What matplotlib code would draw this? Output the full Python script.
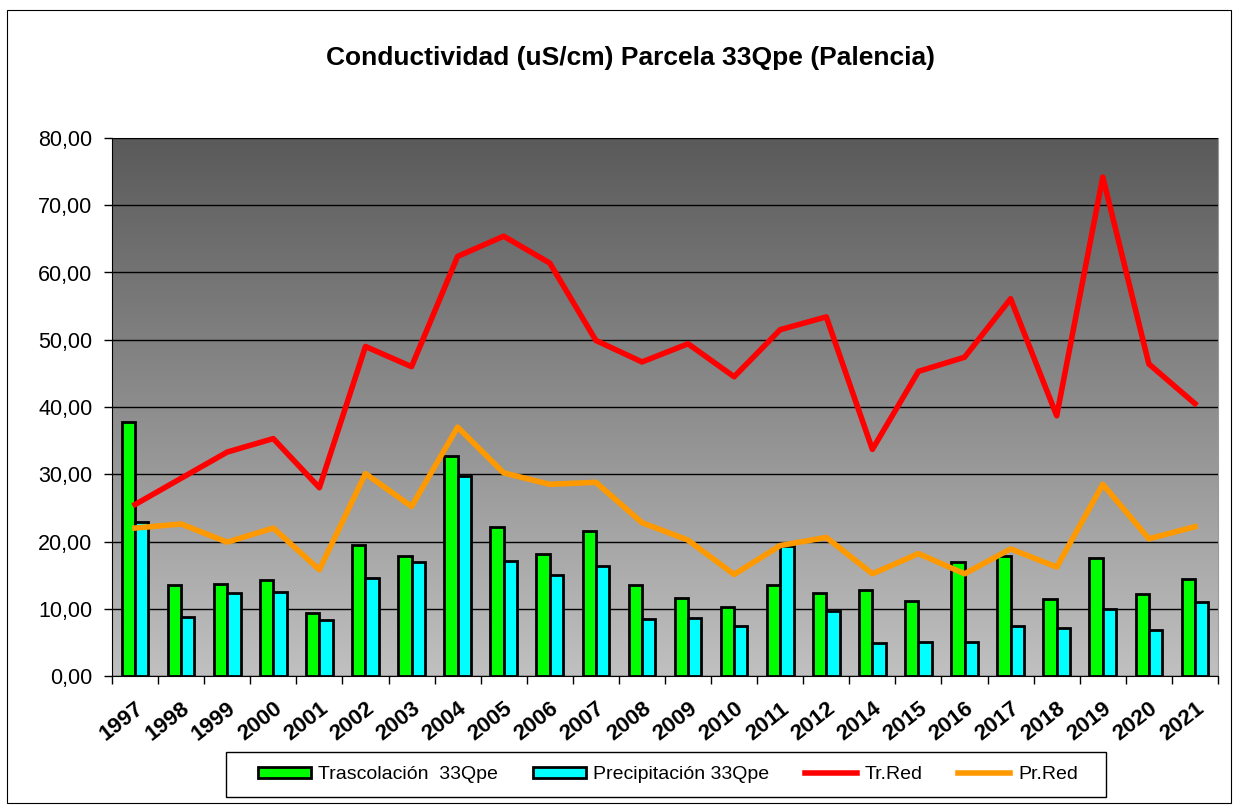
import numpy as np
import matplotlib
matplotlib.use("Agg")
from matplotlib import pyplot as plt
from matplotlib.patches import Rectangle
from matplotlib.ticker import FuncFormatter
from matplotlib.colors import LinearSegmentedColormap

plt.rcParams['font.family'] = ['Liberation Sans', 'DejaVu Sans']

# data
years = ['1997', '1998', '1999', '2000', '2001', '2002', '2003', '2004',
         '2005', '2006', '2007', '2008', '2009', '2010', '2011', '2012',
         '2014', '2015', '2016', '2017', '2018', '2019', '2020', '2021']
trascolacion = [37.8, 13.5, 13.7, 14.3, 9.3, 19.5, 17.9, 32.7,
                22.2, 18.2, 21.5, 13.5, 11.6, 10.3, 13.5, 12.4,
                12.8, 11.2, 17.0, 17.9, 11.4, 17.5, 12.2, 14.4]
precipitacion = [22.9, 8.8, 12.3, 12.5, 8.4, 14.6, 17.0, 29.7,
                 17.1, 15.0, 16.4, 8.5, 8.6, 7.4, 19.4, 9.7,
                 4.9, 5.1, 5.1, 7.4, 7.2, 10.0, 6.9, 11.0]
tr_red = [25.5, 29.4, 33.3, 35.3, 28.0, 49.0, 46.0, 62.4,
          65.4, 61.4, 49.9, 46.7, 49.4, 44.5, 51.5, 53.4,
          33.7, 45.3, 47.4, 56.1, 38.7, 74.2, 46.4, 40.5]
pr_red = [22.0, 22.6, 19.9, 22.0, 15.8, 30.1, 25.2, 37.0,
          30.2, 28.5, 28.8, 22.8, 20.2, 15.1, 19.4, 20.6,
          15.2, 18.2, 15.2, 18.9, 16.2, 28.5, 20.4, 22.2]

W, H = 1234, 805
fig = plt.figure(figsize=(W / 100, H / 100), dpi=100)

# outer chart border
fig.patches.append(Rectangle((7 / W, 2 / H), 1224 / W, 793 / H, transform=fig.transFigure,
                             fill=False, edgecolor='black', linewidth=0.8))

ax = fig.add_axes([112 / W, 1 - 676 / H, 1106 / W, 538 / H])

# gray gradient background
grad = np.linspace(0, 1, 256).reshape(-1, 1)
cmap = LinearSegmentedColormap.from_list('bg', ['#5a5a5a', '#c0c0c0'])
ax.imshow(grad, cmap=cmap, aspect='auto', extent=[0, 1, 0, 1],
          transform=ax.transAxes, zorder=0)

x = np.arange(len(years))
bw = 0.29
b1 = ax.bar(x - bw / 2, trascolacion, bw, color='#00ff00', edgecolor='black',
            linewidth=2.0, zorder=3)
b2 = ax.bar(x + bw / 2, precipitacion, bw, color='#00ffff', edgecolor='black',
            linewidth=2.0, zorder=3)
l1, = ax.plot(x, tr_red, color='#ff0000', linewidth=4, zorder=4)
l2, = ax.plot(x, pr_red, color='#ff9900', linewidth=4, zorder=4)

ax.set_xlim(-0.5, len(years) - 0.5)
ax.set_ylim(0, 80)
ax.set_yticks(np.arange(0, 81, 10))
ax.yaxis.set_major_formatter(FuncFormatter(lambda v, p: ('%.2f' % v).replace('.', ',')))
ax.grid(axis='y', color='black', linewidth=1.0, zorder=1)
ax.set_axisbelow(False)
for gl in ax.get_ygridlines():
    gl.set_zorder(1)

ax.set_xticks(x)
ax.set_xticks(np.arange(-0.5, len(years), 1), minor=True)
ax.set_xticklabels(years, rotation=38, ha='right', rotation_mode='anchor',
                   fontsize=16, fontweight='bold')
ax.tick_params(axis='x', which='major', length=0, pad=16)
ax.tick_params(axis='x', which='minor', length=6, width=1, direction='out')
ax.tick_params(axis='y', length=6, width=1, direction='out', labelsize=15.5, pad=8)

for s in ['top', 'right']:
    ax.spines[s].set_color('#999999')
for s in ['left', 'bottom']:
    ax.spines[s].set_color('black')

fig.text(630.5 / W, 1 - 58 / H, 'Conductividad (uS/cm) Parcela 33Qpe (Palencia)',
         ha='center', va='center', fontsize=19, fontweight='bold')

# legend with a separately drawn frame
fig.patches.append(Rectangle((226 / W, 1 - 797 / H), 880 / W, 45 / H, transform=fig.transFigure,
                             fill=False, edgecolor='black', linewidth=1.0))
fig.legend([b1, b2, l1, l2],
           ['Trascolación  33Qpe', 'Precipitación 33Qpe', 'Tr.Red', 'Pr.Red'],
           loc='center', bbox_to_anchor=(668 / W, 1 - 774.5 / H),
           ncol=4, frameon=False, fontsize=14, handlelength=2.7, handleheight=0.5,
           handletextpad=0.4, columnspacing=1.8, borderpad=0.3)

fig.savefig('out.png', dpi=100)
